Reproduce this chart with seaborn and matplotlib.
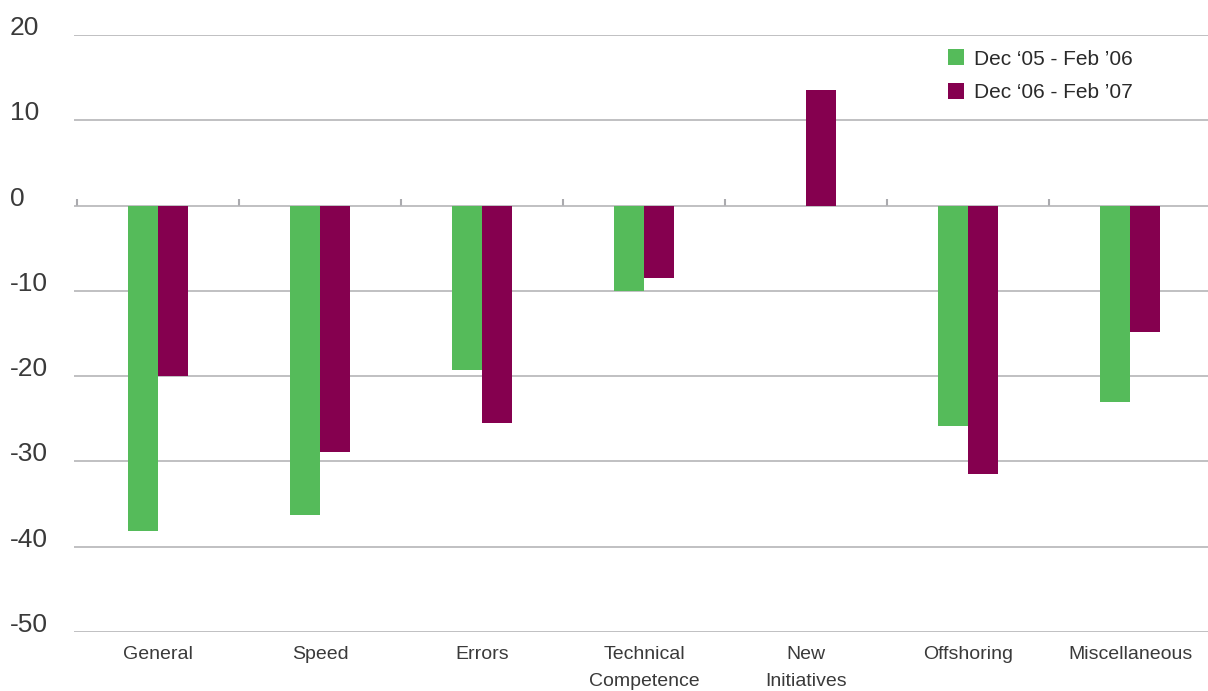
import matplotlib
matplotlib.use("Agg")
import matplotlib.pyplot as plt
import matplotlib.transforms as mtransforms
import numpy as np
import pandas as pd
import seaborn as sns

categories = ["General", "Speed", "Errors", "Technical\nCompetence",
              "New\nInitiatives", "Offshoring", "Miscellaneous"]
series_names = ["Dec \u201805 - Feb \u201906", "Dec \u201806 - Feb \u201907"]
values_0506 = [-38.2, -36.3, -19.3, -10.0, 0.0, -25.9, -23.0]
values_0607 = [-20.0, -28.9, -25.5, -8.5, 13.5, -31.5, -14.8]
y_ticks = [20, 10, 0, -10, -20, -30, -40, -50]

colors = ["#55BB5A", "#85004F"]

df = pd.DataFrame({
    "category": categories * 2,
    "period": [series_names[0]] * len(categories) + [series_names[1]] * len(categories),
    "value": values_0506 + values_0607,
})

sns.set_theme(style="white")
plt.rcParams["font.family"] = ["Liberation Sans", "DejaVu Sans"]

fig = plt.figure(figsize=(12.08, 6.91), dpi=100)
ax = fig.add_axes([74 / 1208, 1 - 632 / 691, 1 - 74 / 1208, (632 - 35) / 691])

sns.barplot(data=df, x="category", y="value", hue="period", order=categories,
            hue_order=series_names, palette=colors, width=0.37, saturation=1,
            errorbar=None, ax=ax, zorder=3, linewidth=0)

ymin, ymax = min(y_ticks), max(y_ticks)
ax.set_ylim(ymin, ymax)
ax.set_xlim(-0.52, len(categories) - 0.52)

# horizontal gridlines
ax.set_yticks(y_ticks)
ax.yaxis.grid(True, color="#b5b5b8", linewidth=1.2, zorder=0)
ax.set_axisbelow(True)
for s in ax.spines.values():
    s.set_visible(False)

# y tick labels: left-aligned at the figure edge, sitting on the gridline
ax.set_yticklabels([str(t) for t in y_ticks], ha="left", va="baseline")
ax.tick_params(axis="y", length=0, pad=46, labelsize=19, labelcolor="#3a3a3a")

# category labels below the plot (drawn as text for wider line spacing)
ax.set_xticks(range(len(categories)))
ax.set_xticklabels([])
ax.tick_params(axis="x", length=0)
label_tf = mtransforms.blended_transform_factory(ax.transData, ax.transAxes) + \
    mtransforms.ScaledTranslation(0, -10 / 72, fig.dpi_scale_trans)
for i, cat in enumerate(categories):
    ax.text(i, 0, cat, transform=label_tf, ha="center", va="top",
            fontsize=14, color="#3a3a3a", linespacing=1.8)
ax.set_xlabel("")
ax.set_ylabel("")

# zero baseline with boundary ticks between categories
zero_loc = (0 - ymin) / (ymax - ymin)
sec = ax.secondary_xaxis(zero_loc)
sec.set_xticks(np.arange(len(categories) + 1) - 0.5)
sec.set_xticklabels([])
sec.tick_params(axis="x", direction="out", length=5, width=1.5, color="#aaaaae")
sec.spines["bottom"].set_color("#aaaaae")
sec.spines["bottom"].set_linewidth(2)
for k in ("top", "left", "right"):
    sec.spines[k].set_visible(False)

# legend
leg = ax.legend(loc="upper left", bbox_to_anchor=(0.763, 0.99), frameon=False,
                fontsize=15, handlelength=0.8, handleheight=0.8,
                handletextpad=0.45, labelspacing=0.68, borderaxespad=0)
for t in leg.get_texts():
    t.set_color("#2a2a2a")

fig.savefig("out.png", dpi=100, facecolor="white")
